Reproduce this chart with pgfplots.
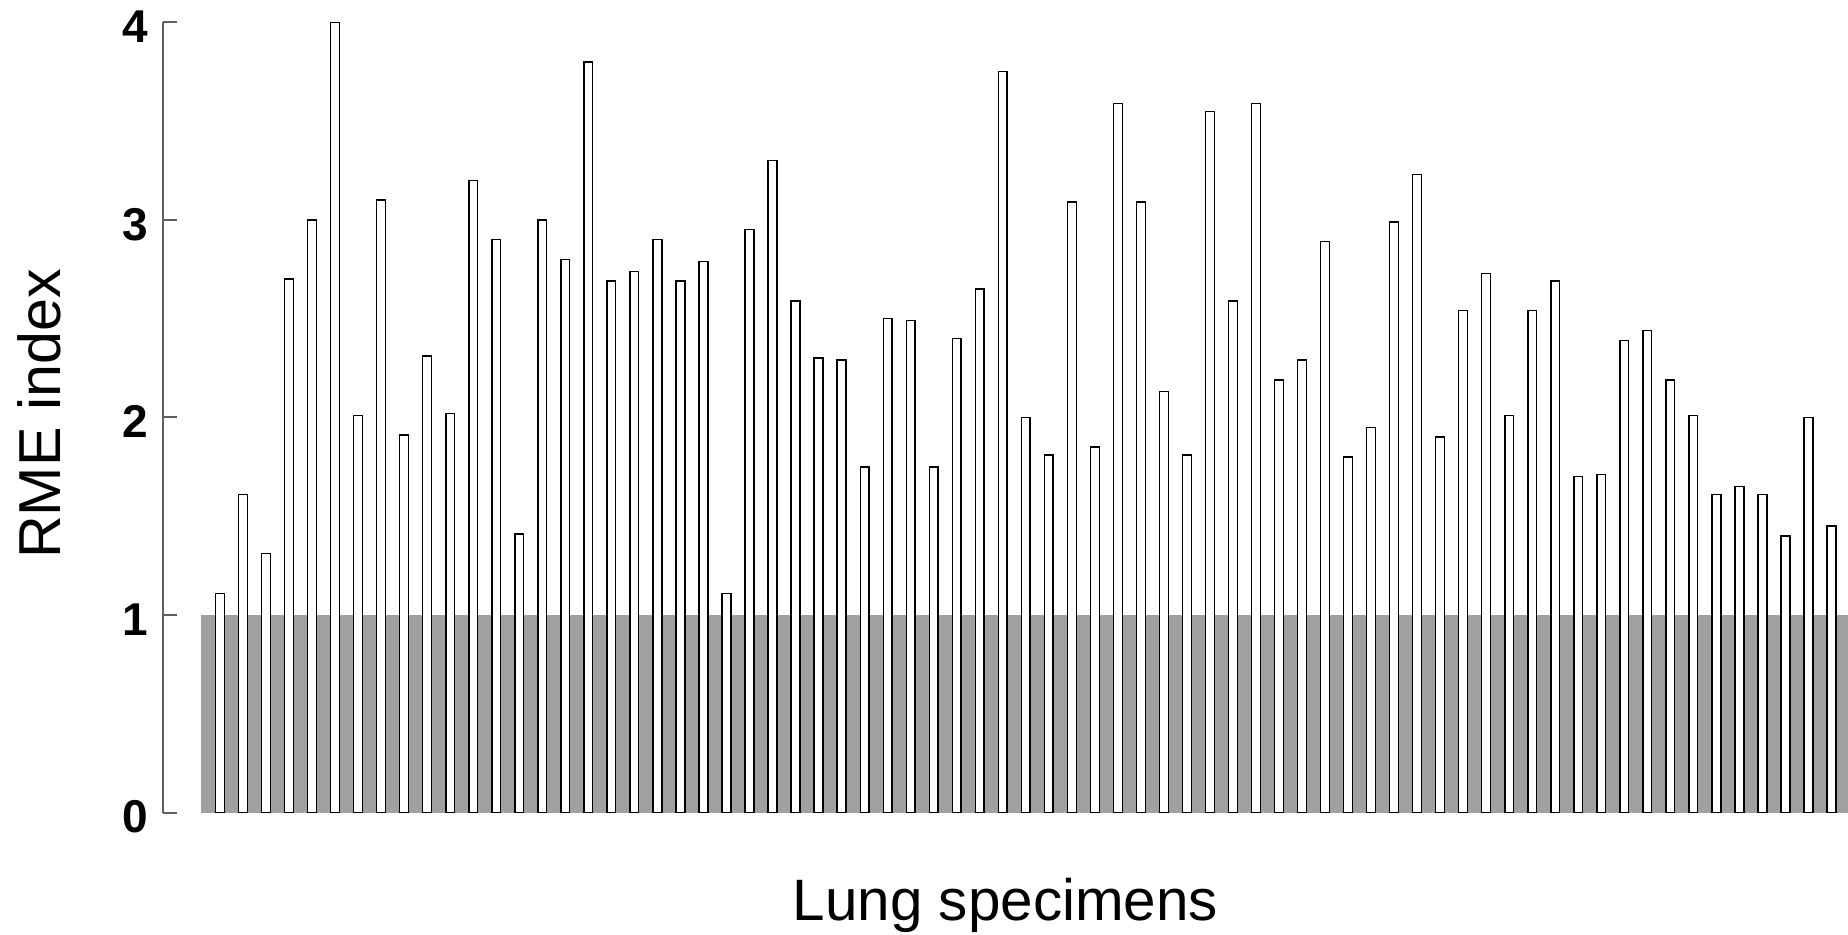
\documentclass[border=0pt]{standalone}
\usepackage{fontspec}
\setmainfont{Liberation Sans}
\usepackage{pgfplots}
\pgfplotsset{compat=1.18}
\usepackage{pgfplotstable}
\definecolor{shade}{RGB}{160,160,160}
\definecolor{axisgray}{RGB}{95,95,95}
\pgfplotstableread{
x y
1 1.11
2 1.61
3 1.31
4 2.70
5 3.00
6 4.00
7 2.01
8 3.10
9 1.91
10 2.31
11 2.02
12 3.20
13 2.90
14 1.41
15 3.00
16 2.80
17 3.80
18 2.69
19 2.74
20 2.90
21 2.69
22 2.79
23 1.11
24 2.95
25 3.30
26 2.59
27 2.30
28 2.29
29 1.75
30 2.50
31 2.49
32 1.75
33 2.40
34 2.65
35 3.75
36 2.00
37 1.81
38 3.09
39 1.85
40 3.59
41 3.09
42 2.13
43 1.81
44 3.55
45 2.59
46 3.59
47 2.19
48 2.29
49 2.89
50 1.80
51 1.95
52 2.99
53 3.23
54 1.90
55 2.54
56 2.73
57 2.01
58 2.54
59 2.69
60 1.70
61 1.71
62 2.39
63 2.44
64 2.19
65 2.01
66 1.61
67 1.65
68 1.61
69 1.40
70 2.00
71 1.45
}\rme
\begin{document}
\begin{tikzpicture}
\begin{axis}[
  at={(0,0)}, anchor=south west,
  scale only axis,
  width=421.25pt, height=197.55pt,
  xmin=-1.476, xmax=71.717,
  ymin=0, ymax=4,
  axis y line=left, axis x line=bottom,
  x axis line style={draw=none},
  y axis line style={-, draw=axisgray, line width=0.5pt},
  xtick=\empty,
  ytick={0,1,2,3,4},
  tick align=inside,
  major tick length=3.5pt,
  ytick style={draw=axisgray, line width=0.5pt},
  /pgf/number format/assume math mode=true,
  yticklabel style={font=\fontsize{11.5}{13}\selectfont\bfseries, inner sep=0pt, xshift=-3.5pt, yshift=-1.1pt},
  ylabel={RME index},
  ylabel style={at={(axis description cs:0,0.5)}, anchor=base, yshift=25.5pt, xshift=0.85pt, font=\fontsize{14.8}{17}\selectfont, inner sep=0pt},
  xlabel={Lung specimens},
  xlabel style={at={(axis description cs:0.5,0)}, anchor=base, yshift=-26.9pt, font=\fontsize{14.6}{17}\selectfont, inner sep=0pt},
  clip=false,
]
\addplot[fill=shade, draw=none] coordinates {(0.153,1) (71.717,1)} \closedcycle;
\addplot[ybar, bar width=2.2pt, bar shift=0pt, fill=white, draw=black, line width=0.35pt] table[x=x,y=y] {\rme};
\end{axis}
\pgfresetboundingbox
\path[use as bounding box] (-40.75pt,-30.375pt) rectangle (421.25pt,203.125pt);
\end{tikzpicture}
\end{document}
